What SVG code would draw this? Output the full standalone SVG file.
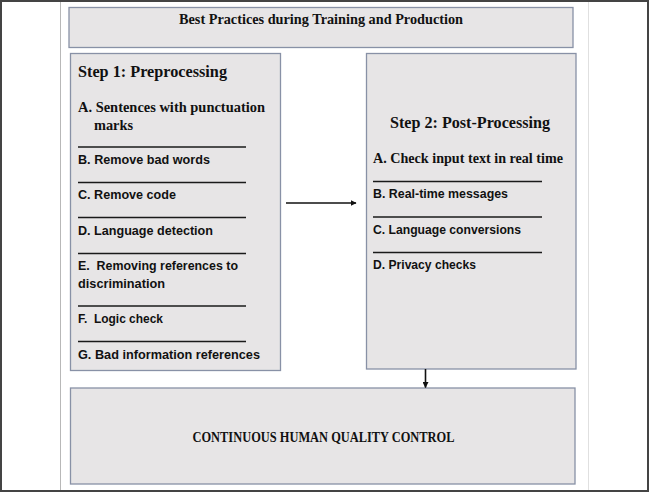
<svg xmlns="http://www.w3.org/2000/svg" width="649" height="492" viewBox="0 0 649 492">
<style>
.box{fill:#e7e5e6;stroke:#8891a6;stroke-width:1.3}
.serif{font-family:"Liberation Serif","DejaVu Serif",serif;font-weight:bold;fill:#111}
.sans{font-family:"Liberation Sans","DejaVu Sans",sans-serif;font-weight:bold;fill:#111;font-size:13px}
.sep{stroke:#1a1a1a;stroke-width:1.5}
.conn{stroke:#111;stroke-width:1.6;fill:none}
</style>
<defs>
<marker id="ah" viewBox="0 0 10 10" refX="9" refY="5" markerWidth="6" markerHeight="6" orient="auto" markerUnits="userSpaceOnUse">
<path d="M0,0 L10,5 L0,10 z" fill="#111"/>
</marker>
</defs>
<rect x="0" y="0" width="649" height="492" fill="#ffffff"/>
<line x1="60.5" y1="0" x2="60.5" y2="492" stroke="#b8b8b8" stroke-width="1"/>
<line x1="588.5" y1="0" x2="588.5" y2="492" stroke="#e0e0e0" stroke-width="1"/>
<rect x="1" y="1" width="647" height="490" fill="none" stroke="#444" stroke-width="2"/>

<g id="title">
<rect class="box" x="69" y="7.5" width="504" height="40"/>
<text class="serif" x="321" y="24" font-size="14.5" text-anchor="middle" textLength="284" lengthAdjust="spacingAndGlyphs">Best Practices during Training and Production</text>
</g>

<g id="step1">
<rect class="box" x="70.5" y="53.5" width="210" height="317"/>
<text class="serif" x="78" y="76.5" font-size="17" textLength="149" lengthAdjust="spacingAndGlyphs">Step 1: Preprocessing</text>
<text class="serif" x="78" y="111.5" font-size="14.5" textLength="187" lengthAdjust="spacingAndGlyphs">A. Sentences with punctuation</text>
<text class="serif" x="94" y="129.5" font-size="14.5" textLength="39" lengthAdjust="spacingAndGlyphs">marks</text>
<line class="sep" x1="78" y1="147" x2="246" y2="147"/>
<text class="sans" x="78" y="163.5" textLength="132" lengthAdjust="spacingAndGlyphs">B. Remove bad words</text>
<line class="sep" x1="78" y1="182.5" x2="246" y2="182.5"/>
<text class="sans" x="78" y="198.5" textLength="98" lengthAdjust="spacingAndGlyphs">C. Remove code</text>
<line class="sep" x1="78" y1="217.5" x2="246" y2="217.5"/>
<text class="sans" x="78" y="234.5" textLength="135" lengthAdjust="spacingAndGlyphs">D. Language detection</text>
<line class="sep" x1="78" y1="253.5" x2="246" y2="253.5"/>
<text class="sans" x="78" y="270" textLength="160" lengthAdjust="spacingAndGlyphs" xml:space="preserve">E.  Removing references to</text>
<text class="sans" x="78" y="287.5" textLength="87" lengthAdjust="spacingAndGlyphs">discrimination</text>
<line class="sep" x1="78" y1="306" x2="246" y2="306"/>
<text class="sans" x="78" y="322.5" textLength="85" lengthAdjust="spacingAndGlyphs" xml:space="preserve">F.  Logic check</text>
<line class="sep" x1="78" y1="341.5" x2="246" y2="341.5"/>
<text class="sans" x="78" y="358.5" textLength="182" lengthAdjust="spacingAndGlyphs">G. Bad information references</text>
</g>

<g id="step2">
<rect class="box" x="366.5" y="53.5" width="209.5" height="315.5"/>
<text class="serif" x="390" y="128" font-size="17" textLength="160" lengthAdjust="spacingAndGlyphs">Step 2: Post-Processing</text>
<text class="serif" x="373" y="163" font-size="14.5" textLength="190" lengthAdjust="spacingAndGlyphs">A. Check input text in real time</text>
<line class="sep" x1="373" y1="181.5" x2="542" y2="181.5"/>
<text class="sans" x="373" y="198" textLength="135" lengthAdjust="spacingAndGlyphs">B. Real-time messages</text>
<line class="sep" x1="373" y1="217" x2="542" y2="217"/>
<text class="sans" x="373" y="234" textLength="148" lengthAdjust="spacingAndGlyphs">C. Language conversions</text>
<line class="sep" x1="373" y1="252.5" x2="542" y2="252.5"/>
<text class="sans" x="373" y="268.5" textLength="103" lengthAdjust="spacingAndGlyphs">D. Privacy checks</text>
</g>

<g id="qc">
<rect class="box" x="70.5" y="388" width="504.5" height="96"/>
<text class="serif" x="323.5" y="442" font-size="14" text-anchor="middle" textLength="262" lengthAdjust="spacingAndGlyphs">CONTINUOUS HUMAN QUALITY CONTROL</text>
</g>

<g id="connectors">
<line class="conn" x1="286" y1="203" x2="356" y2="203" marker-end="url(#ah)"/>
<line class="conn" x1="425.5" y1="369" x2="425.5" y2="387.5" marker-end="url(#ah)"/>
</g>
</svg>
